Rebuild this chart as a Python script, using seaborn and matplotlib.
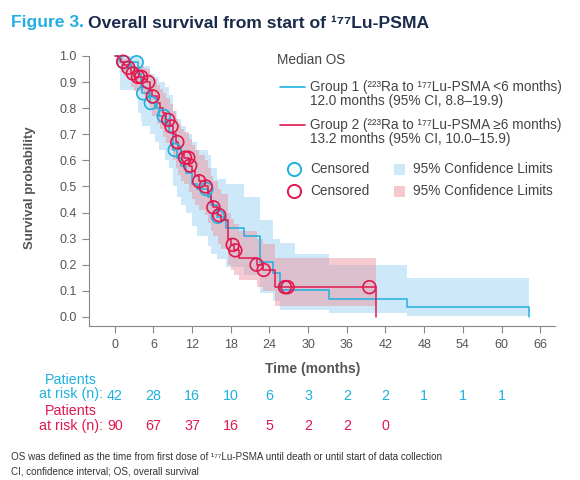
import matplotlib
matplotlib.use("Agg")
import matplotlib.pyplot as plt
import numpy as np
import pandas as pd
import seaborn as sns
from matplotlib.lines import Line2D
from matplotlib.patches import Rectangle
from matplotlib.transforms import blended_transform_factory

# Group 1 (Ra-223 to Lu-PSMA < 6 months), KM steps
g1_time = [0, 0.8, 3.6, 4.0, 4.3, 5.5, 6.2, 6.8, 7.8, 8.4, 9.0, 9.6, 10.2, 11.0, 12.0, 12.8, 14.5, 15.0,
           15.8, 17.3, 20.0, 22.5, 24.5, 25.6, 27.9, 33.3, 45.3, 64.2]
g1_surv = [1.0, 0.976, 0.93, 0.88, 0.857, 0.82, 0.80, 0.77, 0.74, 0.71, 0.64, 0.61, 0.58, 0.55, 0.51, 0.49,
           0.46, 0.43, 0.384, 0.34, 0.31, 0.21, 0.17, 0.103, 0.103, 0.069, 0.036, 0.0]
g1_upper = [1.0, 1.0, 1.0, 0.98, 0.96, 0.93, 0.92, 0.90, 0.88, 0.85, 0.79, 0.76, 0.73, 0.70, 0.67, 0.64,
            0.62, 0.57, 0.53, 0.51, 0.46, 0.37, 0.30, 0.285, 0.24, 0.197, 0.15, 0.15]
g1_lower = [1.0, 0.87, 0.78, 0.75, 0.73, 0.70, 0.67, 0.64, 0.60, 0.57, 0.50, 0.46, 0.43, 0.40, 0.35, 0.31,
            0.27, 0.24, 0.22, 0.19, 0.16, 0.09, 0.06, 0.027, 0.027, 0.015, 0.003, 0.0]
g1_censor = [1.4, 3.4, 4.4, 5.6, 7.6, 9.3, 14.2, 16.0]

# Group 2 (Ra-223 to Lu-PSMA >= 6 months)
g2_time = [0, 0.5, 1.0, 1.5, 2.0, 2.5, 3.0, 4.5, 5.0, 5.5, 5.8, 6.5, 7.0, 7.5, 8.0, 8.5, 9.0, 9.5, 9.8,
           10.3, 10.8, 11.5, 12.0, 12.5, 13.0, 14.0, 14.5, 15.0, 15.3, 16.0, 16.5, 17.5, 18.0, 18.5, 19.2,
           22.0, 23.0, 24.8, 40.5]
g2_surv = [1.0, 0.99, 0.978, 0.967, 0.955, 0.933, 0.92, 0.91, 0.90, 0.87, 0.845, 0.82, 0.80, 0.78, 0.755,
           0.73, 0.70, 0.67, 0.645, 0.625, 0.61, 0.58, 0.56, 0.54, 0.52, 0.50, 0.47, 0.44, 0.42, 0.39, 0.37,
           0.30, 0.276, 0.255, 0.225, 0.20, 0.18, 0.114, 0.0]
g2_upper = [1.0, 1.0, 1.0, 0.99, 0.985, 0.97, 0.96, 0.955, 0.95, 0.93, 0.91, 0.89, 0.875, 0.86, 0.84,
            0.815, 0.79, 0.76, 0.74, 0.72, 0.71, 0.68, 0.66, 0.64, 0.62, 0.60, 0.57, 0.54, 0.52, 0.49, 0.47,
            0.40, 0.375, 0.355, 0.33, 0.30, 0.28, 0.226, 0.226]
g2_lower = [1.0, 0.97, 0.94, 0.925, 0.91, 0.88, 0.865, 0.85, 0.84, 0.80, 0.77, 0.74, 0.72, 0.69, 0.665,
            0.64, 0.60, 0.57, 0.545, 0.52, 0.51, 0.48, 0.45, 0.43, 0.41, 0.39, 0.36, 0.33, 0.31, 0.28, 0.26,
            0.20, 0.18, 0.16, 0.14, 0.115, 0.10, 0.042, 0.042]
g2_censor = [1.3, 2.1, 2.8, 3.6, 4.1, 5.2, 5.9, 8.3, 8.8, 9.7, 10.9, 11.4, 11.7, 13.1, 14.1, 15.3, 16.2,
             18.3, 18.7, 22.0, 23.1, 26.4, 26.8, 39.5]

x_ticks = list(range(0, 67, 6))
y_ticks = [round(v * 0.1, 1) for v in range(11)]
risk_g1 = [42, 28, 16, 10, 6, 3, 2, 2, 1, 1, 1]
risk_g2 = [90, 67, 37, 16, 5, 2, 2, 0]

BLUE = "#1fb0e0"
RED = "#e0184e"
BLUE_CI = "#cde8f8"
RED_CI = "#ec98a4"
GREY = "#555555"
NAVY = "#1b2b4b"

sns.set_theme(style="ticks")
plt.rcParams["font.family"] = ["Liberation Sans", "DejaVu Sans"]

W, H = 580, 480
fig = plt.figure(figsize=(W / 100, H / 100), dpi=100)


def fx(px):
    return px / W


def fy(py):
    return 1 - py / H


ax = fig.add_axes([fx(89), fy(326), fx(555) - fx(89), fy(56) - fy(326)])


def km_frame(t, s):
    return pd.DataFrame({"time": t, "surv": s})


def surv_at(t, s, when):
    idx = np.searchsorted(t, when, side="right") - 1
    return [s[i] for i in idx]


# confidence bands
ax.fill_between(g1_time, g1_lower, g1_upper, step="post", color=BLUE_CI, lw=0, zorder=1)
ax.fill_between(g2_time, g2_lower, g2_upper, step="post", color=RED_CI, alpha=0.5, lw=0, zorder=2)

# survival curves
sns.lineplot(data=km_frame(g1_time, g1_surv), x="time", y="surv", drawstyle="steps-post",
             estimator=None, color=BLUE, lw=1.1, ax=ax, zorder=3, clip_on=False)
sns.lineplot(data=km_frame(g2_time, g2_surv), x="time", y="surv", drawstyle="steps-post",
             estimator=None, color=RED, lw=1.1, ax=ax, zorder=4, clip_on=False)

# censored marks
c1 = km_frame(g1_censor, surv_at(g1_time, g1_surv, g1_censor))
c2 = km_frame(g2_censor, surv_at(g2_time, g2_surv, g2_censor))
sns.scatterplot(data=c1, x="time", y="surv", marker="o", s=85, facecolors="none", edgecolor=BLUE,
                linewidth=1.2, ax=ax, zorder=5, clip_on=False)
sns.scatterplot(data=c2, x="time", y="surv", marker="o", s=85, facecolors="none", edgecolor=RED,
                linewidth=1.2, ax=ax, zorder=6, clip_on=False)

ax.set_xlim(-4, 68.3)
ax.set_ylim(-0.035, 1.0)
ax.set_xticks(x_ticks)
ax.set_yticks(y_ticks)
ax.set_yticklabels([f"{v:.1f}" for v in y_ticks])
ax.set_xlabel("")
ax.set_ylabel("")
ax.tick_params(colors="#888888", labelcolor=GREY, labelsize=9, length=5, width=0.8, pad=4)
for side in ["left", "bottom"]:
    ax.spines[side].set_color("#888888")
    ax.spines[side].set_linewidth(0.8)
sns.despine(ax=ax)

# axis titles
fig.text(fx(30), fy(188), "Survival probability", rotation=90, ha="center", va="center",
         fontsize=9.5, fontweight="bold", color=GREY)
fig.text(fx(313), fy(369), "Time (months)", ha="center", va="center", fontsize=10,
         fontweight="bold", color=GREY)

# title
t1 = fig.text(fx(11), fy(23), "Figure 3.", ha="left", va="center", fontsize=12.6, fontweight="bold",
              color="#22aee0")
fig.canvas.draw()
bb = t1.get_window_extent()
fig.text(fx(bb.x1 + 4), fy(23), "Overall survival from start of ¹⁷⁷Lu-PSMA", ha="left", va="center",
         fontsize=12.6, fontweight="bold", color=NAVY)

# legend drawn by hand
leg_fs = 9.8
leg_col = "#444444"
fig.text(fx(277), fy(60), "Median OS", fontsize=leg_fs, color=leg_col, va="center")
for y0, col, l1, l2 in [(87, BLUE, "Group 1 (²²³Ra to ¹⁷⁷Lu-PSMA <6 months)",
                         "12.0 months (95% CI, 8.8–19.9)"),
                        (125, RED, "Group 2 (²²³Ra to ¹⁷⁷Lu-PSMA ≥6 months)",
                         "13.2 months (95% CI, 10.0–15.9)")]:
    fig.add_artist(Line2D([fx(280), fx(305)], [fy(y0), fy(y0)], color=col, lw=1.2))
    fig.text(fx(310), fy(y0), l1, fontsize=leg_fs, color=leg_col, va="center")
    fig.text(fx(310), fy(y0 + 14), l2, fontsize=leg_fs, color=leg_col, va="center")

for y0, col, fill in [(169, BLUE, BLUE_CI), (191, RED, "#f5c8cc")]:
    fig.add_artist(Line2D([fx(294)], [fy(y0)], marker="o", markersize=9.5, mfc="none", mec=col, mew=1.4))
    fig.text(fx(310), fy(y0), "Censored", fontsize=leg_fs, color=leg_col, va="center")
    fig.add_artist(Rectangle((fx(394), fy(y0 + 5.5)), fx(11), 11 / H, color=fill, lw=0))
    fig.text(fx(413), fy(y0), "95% Confidence Limits", fontsize=leg_fs, color=leg_col, va="center")

# patients at risk, numbers placed under the x ticks
risk_fs = 10.3
fig.text(fx(71), fy(387), "Patients\nat risk (n):", ha="center", va="center", fontsize=risk_fs,
         color=BLUE, linespacing=1.05)
fig.text(fx(71), fy(418.5), "Patients\nat risk (n):", ha="center", va="center", fontsize=risk_fs,
         color=RED, linespacing=1.05)
trans = blended_transform_factory(ax.transData, fig.transFigure)
for t, n in zip(x_ticks, risk_g1):
    fig.text(t, fy(395.5), str(n), ha="center", va="center", fontsize=risk_fs, color=BLUE,
             transform=trans)
for t, n in zip(x_ticks, risk_g2):
    fig.text(t, fy(426.5), str(n), ha="center", va="center", fontsize=risk_fs, color=RED,
             transform=trans)

# footnotes
foot_fs = 7.1
fig.text(fx(11), fy(457), "OS was defined as the time from first dose of ¹⁷⁷Lu-PSMA until death or until start of data collection",
         fontsize=foot_fs, color="#333333", va="center")
fig.text(fx(11), fy(471), "CI, confidence interval; OS, overall survival", fontsize=foot_fs,
         color="#333333", va="center")

fig.savefig("out.png", dpi=100)
